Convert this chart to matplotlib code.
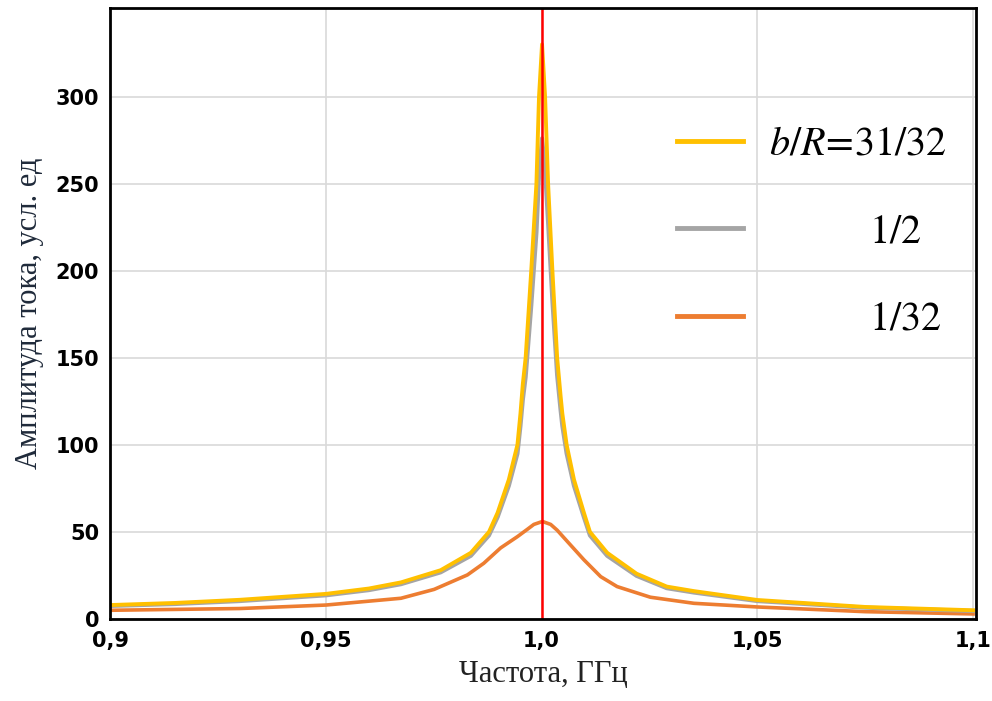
import numpy as np
import matplotlib.pyplot as plt

plt.rcParams['mathtext.fontset'] = 'stix'

# b/R = 31/32 and b/R = 1/2 (same frequency points)
f_31 = [0.900, 0.915, 0.930, 0.950, 0.960, 0.9674, 0.9766, 0.9836, 0.9878, 0.9898,
        0.9924, 0.9944, 0.9951, 0.99565, 0.9963, 0.9976, 0.9988, 0.9994, 1.0001,
        1.0008, 1.0015, 1.0025, 1.0036, 1.0044, 1.0048, 1.0058, 1.0075, 1.0098,
        1.0112, 1.0152, 1.0220, 1.0290, 1.0353, 1.0500, 1.0750, 1.1000]
a_31 = [8.0, 9.2, 11.0, 14.4, 17.5, 21.0, 28.0, 38.0, 50.0, 61.0,
        80.0, 100.0, 118.0, 135.0, 150.0, 200.0, 250.0, 300.0, 330.0,
        300.0, 250.0, 200.0, 150.0, 128.0, 118.0, 100.0, 80.0, 61.0,
        50.0, 38.0, 26.0, 18.6, 16.0, 10.9, 6.9, 5.0]

f_2 = f_31
a_2 = [7.5, 8.6, 10.3, 13.6, 16.6, 20.0, 26.8, 36.3, 48.0, 58.5,
       76.5, 95.0, 111.0, 126.0, 139.0, 180.0, 222.0, 255.0, 276.0,
       258.0, 228.0, 183.0, 140.0, 120.0, 111.0, 95.0, 76.5, 58.5,
       48.0, 36.3, 24.8, 17.7, 15.2, 10.3, 6.5, 4.6]

# b/R = 1/32
f_32 = [0.900, 0.930, 0.950, 0.9674, 0.9751, 0.9828, 0.9866, 0.9905, 0.9944, 0.9967,
        0.9982, 1.0002, 1.0021, 1.0036, 1.0060, 1.0098, 1.0137, 1.0175, 1.0252,
        1.0353, 1.0500, 1.0750, 1.1000]
a_32 = [5.0, 6.0, 8.0, 11.9, 17.0, 25.3, 32.0, 40.8, 47.3, 51.5,
        54.3, 56.0, 54.3, 51.0, 44.4, 34.0, 24.3, 18.6, 12.5,
        9.0, 6.9, 4.2, 2.9]

f_res = 1.0

xticks = [0.9, 0.95, 1.0, 1.05, 1.1]
xlabels = ['0,9', '0,95', '1,0', '1,05', '1,1']
yticks = [0, 50, 100, 150, 200, 250, 300]

fig = plt.figure(figsize=(9.92, 7.01), dpi=100)
ax = fig.add_axes([0.111, 0.117, 0.873, 0.872])

ax.plot(f_32, a_32, color='#ED7D31', lw=2.6, label=r'$\qquad\quad\;\,\mathrm{1/32}$')
ax.plot(f_2, a_2, color='#A5A5A5', lw=3.0, label=r'$\qquad\quad\;\,\mathrm{1/2}$')
ax.plot(f_31, a_31, color='#FFC000', lw=2.8, label=r'$b/R\!=\!\mathrm{31/32}$')
ax.axvline(f_res, color='#FF0000', lw=1.8)

ax.set_xlim(0.9, 1.1007)
ax.set_ylim(0, 351)
ax.set_xticks(xticks)
ax.set_xticklabels(xlabels)
ax.set_yticks(yticks)
ax.grid(True, color='#d9d9d9', lw=1.2)
ax.set_axisbelow(True)
ax.tick_params(length=0, labelsize=15, pad=9)
ax.tick_params(axis='y', pad=8)
for lab in ax.get_xticklabels() + ax.get_yticklabels():
    lab.set_fontweight('bold')
for sp in ax.spines.values():
    sp.set_linewidth(2.0)
    sp.set_color('black')

ax.set_xlabel('Частота, ГГц', family='Liberation Serif', fontsize=22, color='#222222', labelpad=6)
ax.set_ylabel('Амплитуда тока, усл. ед', family='Liberation Serif', fontsize=22, color='#1f2a3a', labelpad=8)

h, l = ax.get_legend_handles_labels()
leg = ax.legend(h[::-1], l[::-1], loc='upper left', bbox_to_anchor=(0.655, 0.81),
                frameon=False, fontsize=29, handlelength=1.62, handletextpad=0.65,
                labelspacing=1.18, borderpad=0, borderaxespad=0)
for line in leg.get_lines():
    line.set_linewidth(3.5)

fig.savefig('out.png', dpi=100)
